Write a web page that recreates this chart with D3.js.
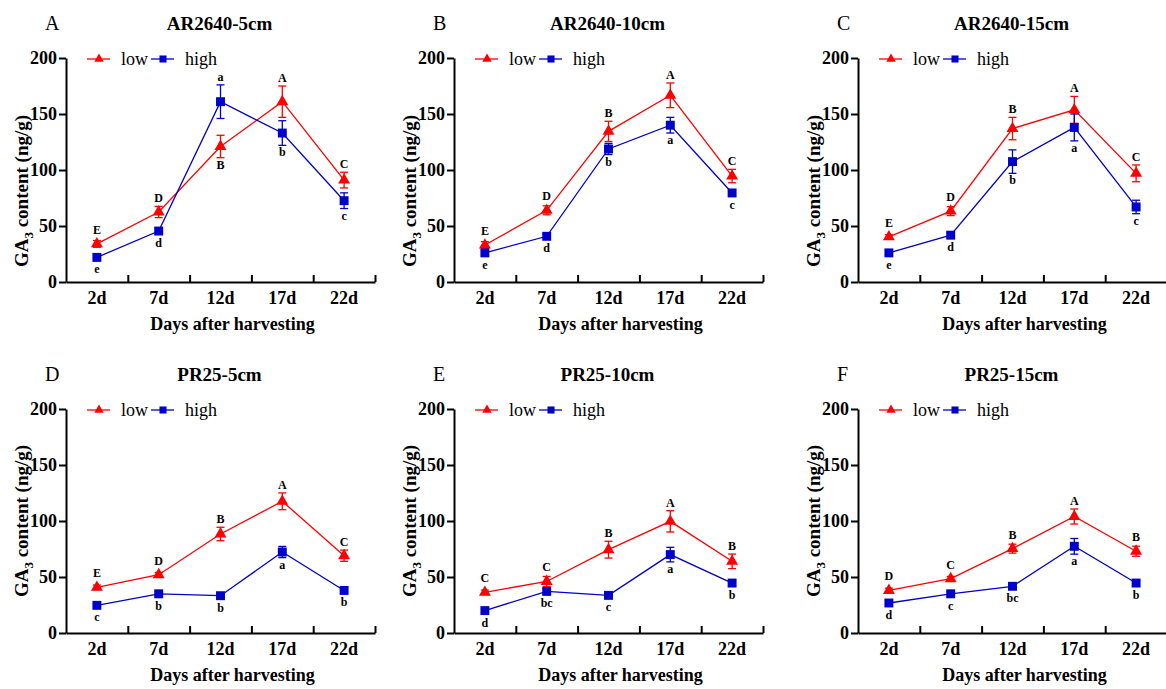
<!DOCTYPE html>
<html>
<head>
<meta charset="utf-8">
<script src="https://cdn.jsdelivr.net/npm/d3@7"></script>
<style>
  html, body { margin: 0; padding: 0; background: #fff; }
  svg { display: block; }
</style>
</head>
<body>
<div id="chart"></div>
<script>
// x categories
const days = ["2d", "7d", "12d", "17d", "22d"];
const yTicks = [0, 50, 100, 150, 200];

// panel titles and letters
const panelLetters = ["A", "B", "C", "D", "E", "F"];
const panelTitles = ["AR2640-5cm", "AR2640-10cm", "AR2640-15cm", "PR25-5cm", "PR25-10cm", "PR25-15cm"];

// "low" series, means and error
const lowMeans = [
  [34, 62.5, 121, 161, 91],
  [33, 64, 134.5, 166.7, 94.6],
  [40.3, 63.3, 137, 153.7, 97],
  [40.8, 52, 88.4, 117.6, 69],
  [36.3, 46, 74.4, 99.7, 64],
  [38, 48.5, 75.3, 104, 73]
];
const lowErr = [
  [3, 5, 10, 14, 7],
  [3, 4, 9, 11, 6],
  [2, 4, 10, 12, 7.5],
  [2, 2, 6, 7.5, 5],
  [2, 4.5, 7.5, 9.5, 6.5],
  [2, 2, 4, 6.7, 4.5]
];
const lowLetters = [
  ["E", "D", "B", "A", "C"],
  ["E", "D", "B", "A", "C"],
  ["E", "D", "B", "A", "C"],
  ["E", "D", "B", "A", "C"],
  ["C", "C", "B", "A", "B"],
  ["D", "C", "B", "A", "B"]
];

// "high" series
const highMeans = [
  [22, 45.5, 161, 133, 72.6],
  [26, 40.8, 118.8, 140, 79.5],
  [26, 41.8, 107.5, 138, 67],
  [24.7, 35, 33.3, 72.3, 38],
  [20, 37.2, 33.6, 70, 44.6],
  [26.8, 35, 41.7, 77.4, 44.6]
];
const highErr = [
  [3, 3, 15, 11, 7],
  [2, 2, 5, 7, 3],
  [2, 2, 10.5, 12, 6],
  [2, 2, 2, 5, 2],
  [2, 3, 2, 6.5, 3],
  [2, 2, 2, 7, 2]
];
const highLetters = [
  ["e", "d", "a", "b", "c"],
  ["e", "d", "b", "a", "c"],
  ["e", "d", "b", "a", "c"],
  ["c", "b", "b", "a", "b"],
  ["d", "bc", "c", "a", "b"],
  ["d", "c", "bc", "a", "b"]
];

const RED = "#ff0000";
const BLUE = "#0000cc";
const SERIF = "'Liberation Serif', 'Times New Roman', serif";

const W = 1166, H = 689;
const plotW = 309, plotH = 224;
// axis origin (left x, top y) of each panel
const origins = [
  [66, 58], [454, 58], [858, 58],
  [66, 409], [454, 409], [858, 409]
];

const svg = d3.select("#chart").append("svg")
  .attr("width", W)
  .attr("height", H)
  .style("background", "#fff");

const triangle = d3.symbol().type(d3.symbolTriangle);
const square = d3.symbol().type(d3.symbolSquare);

panelTitles.forEach((title, p) => {
  const [ox, oy] = origins[p];
  const g = svg.append("g").attr("transform", `translate(${ox},${oy})`);

  const x = d3.scaleBand().domain(days).range([0, plotW]);
  const xEdge = d3.scaleLinear().domain([0, days.length]).range([0, plotW]);
  const y = d3.scaleLinear().domain([0, 200]).range([plotH, 0]);

  // panel letter and title
  g.append("text")
    .attr("x", -21).attr("y", -28)
    .style("font-family", SERIF).style("font-size", "20px")
    .text(panelLetters[p]);
  g.append("text")
    .attr("x", plotW / 2 - 1).attr("y", -28)
    .attr("text-anchor", "middle")
    .style("font-family", SERIF).style("font-size", "19px").style("font-weight", "bold")
    .text(title);

  // x axis: inward ticks at band edges
  g.append("g")
    .attr("transform", `translate(0,${plotH})`)
    .call(d3.axisBottom(xEdge).tickValues([1, 2, 3, 4, 5]).tickSize(-7).tickSizeOuter(0).tickFormat(""))
    .call(a => a.selectAll("path, line").attr("stroke", "#000").attr("stroke-width", 2));
  // x labels at band centres
  g.append("g")
    .attr("transform", `translate(0,${plotH})`)
    .call(d3.axisBottom(x).tickSize(0).tickPadding(9))
    .call(a => a.select(".domain").remove())
    .call(a => a.selectAll("text")
      .style("font-family", SERIF).style("font-size", "18px").style("font-weight", "bold").attr("fill", "#000"));

  // y axis
  g.append("g")
    .call(d3.axisLeft(y).tickValues(yTicks).tickSize(7).tickPadding(2).tickSizeOuter(0))
    .call(a => a.selectAll("path, line").attr("stroke", "#000").attr("stroke-width", 2))
    .call(a => a.selectAll("text")
      .style("font-family", SERIF).style("font-size", "18px").style("font-weight", "bold").attr("fill", "#000"));

  // axis titles
  g.append("text")
    .attr("x", plotW / 2 + 12).attr("y", plotH + 48)
    .attr("text-anchor", "middle")
    .style("font-family", SERIF).style("font-size", "18px").style("font-weight", "bold")
    .text("Days after harvesting");
  const yMid = p < 3 ? 133 : 112;
  const yl = g.append("text")
    .attr("transform", `translate(-38,${yMid}) rotate(-90)`)
    .attr("text-anchor", "middle")
    .style("font-family", SERIF).style("font-size", "19px").style("font-weight", "bold");
  yl.append("tspan").text("GA");
  yl.append("tspan").attr("dy", 5).style("font-size", "13px").text("3");
  yl.append("tspan").attr("dy", -5).text(" content (ng/g)");

  // series
  const series = [
    { means: lowMeans[p], err: lowErr[p], letters: lowLetters[p], other: highMeans[p], color: RED, shape: triangle, size: 62 },
    { means: highMeans[p], err: highErr[p], letters: highLetters[p], other: lowMeans[p], color: BLUE, shape: square, size: 80 }
  ];

  series.forEach(s => {
    const rows = days.map((d, i) => ({ day: d, v: s.means[i], e: s.err[i], lab: s.letters[i], above: s.means[i] >= s.other[i] }));
    const cx = d => x(d.day) + x.bandwidth() / 2;

    g.append("path")
      .datum(rows)
      .attr("fill", "none")
      .attr("stroke", s.color)
      .attr("stroke-width", 1.3)
      .attr("d", d3.line().x(cx).y(d => y(d.v)));

    const eb = g.append("g").selectAll("g").data(rows).join("g").attr("stroke", s.color).attr("stroke-width", 1.3);
    eb.append("line").attr("x1", cx).attr("x2", cx).attr("y1", d => y(d.v + d.e)).attr("y2", d => y(d.v - d.e));
    eb.append("line").attr("x1", d => cx(d) - 4).attr("x2", d => cx(d) + 4).attr("y1", d => y(d.v + d.e)).attr("y2", d => y(d.v + d.e));
    eb.append("line").attr("x1", d => cx(d) - 4).attr("x2", d => cx(d) + 4).attr("y1", d => y(d.v - d.e)).attr("y2", d => y(d.v - d.e));

    g.append("g").selectAll("path").data(rows).join("path")
      .attr("transform", d => `translate(${cx(d)},${y(d.v)})`)
      .attr("d", s.shape.size(s.size))
      .attr("fill", s.color);

    g.append("g").selectAll("text").data(rows).join("text")
      .attr("x", cx)
      .attr("y", d => d.above
        ? Math.min(y(d.v + d.e), y(d.v) - 6) - 4
        : Math.max(y(d.v - d.e), y(d.v) + 5) + 11)
      .attr("text-anchor", "middle")
      .style("font-family", SERIF).style("font-size", "12px").style("font-weight", "bold")
      .text(d => d.lab);
  });

  // legend
  const lg = g.append("g").attr("transform", "translate(0,1)");
  lg.append("line").attr("x1", 21).attr("x2", 44).attr("stroke", RED).attr("stroke-width", 1.3);
  lg.append("path").attr("transform", "translate(33,0)").attr("d", triangle.size(38)).attr("fill", RED);
  lg.append("text").attr("x", 55).attr("y", 6)
    .style("font-family", SERIF).style("font-size", "18px").text("low");
  lg.append("line").attr("x1", 85).attr("x2", 108).attr("stroke", BLUE).attr("stroke-width", 1.3);
  lg.append("path").attr("transform", "translate(97,0)").attr("d", square.size(50)).attr("fill", BLUE);
  lg.append("text").attr("x", 119).attr("y", 6)
    .style("font-family", SERIF).style("font-size", "18px").text("high");
});
</script>
</body>
</html>
